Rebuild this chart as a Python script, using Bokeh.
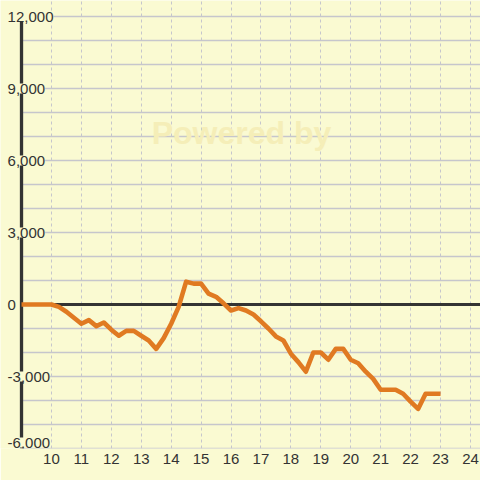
from bokeh.plotting import figure
from bokeh.models import FixedTicker, Range1d, Label
from bokeh.core.properties import value
from bokeh.embed import file_html
from bokeh.resources import INLINE

# ---- data ----
hours = [9.0, 9.25, 9.5, 9.75, 10.0, 10.25, 10.5, 10.75, 11.0, 11.25, 11.5, 11.75,
         12.0, 12.25, 12.5, 12.75, 13.0, 13.25, 13.5, 13.75, 14.0, 14.25, 14.5, 14.75,
         15.0, 15.25, 15.5, 15.75, 16.0, 16.25, 16.5, 16.75, 17.0, 17.25, 17.5, 17.75,
         18.0, 18.25, 18.5, 18.75, 19.0, 19.25, 19.5, 19.75, 20.0, 20.25, 20.5, 20.75,
         21.0, 21.25, 21.5, 21.75, 22.0, 22.25, 22.5, 22.75, 23.0]
balance = [0, 0, 0, 0, 0, -100, -300, -550, -800, -650, -900, -750,
           -1050, -1300, -1100, -1100, -1300, -1500, -1850, -1400, -800, -100, 950, 870,
           870, 450, 320, 50, -250, -150, -250, -420, -700, -1000, -1330, -1500,
           -2050, -2400, -2800, -2000, -2000, -2300, -1850, -1850, -2300, -2450, -2800, -3100,
           -3550, -3550, -3550, -3720, -4050, -4350, -3720, -3720, -3720]

x_ticks = [10, 11, 12, 13, 14, 15, 16, 17, 18, 19, 20, 21, 22, 23, 24]
y_ticks = [-6000, -3000, 0, 3000, 6000, 9000, 12000]
y_tick_labels = ["-6,000", "-3,000", "0", "3,000", "6,000", "9,000", "12,000"]
y_grid = [-6000, -5000, -4000, -3000, -2000, -1000, 0, 1000, 2000, 3000,
          4000, 5000, 6000, 7000, 8000, 9000, 10000, 11000, 12000]

# ---- style ----
BG = "#fafad2"
GRID = "#c6c6cc"
DARK = "#333333"
ORANGE = "#e07a22"
FONT = "Liberation Sans"
FS = "15px"

X0, X1 = 8.298, 24.335
Y0, Y1 = -6000, 12667
x_origin = hours[0]

p = figure(width=480, height=480, output_backend="svg", toolbar_location=None,
           x_range=Range1d(X0, X1), y_range=Range1d(Y0, Y1), y_axis_location=None,
           min_border_left=0, min_border_right=0, min_border_top=0, min_border_bottom=32,
           background_fill_color=BG, border_fill_color=BG, outline_line_color=None)

for g in p.ygrid:
    g.grid_line_color = None

ax = p.xaxis[0]
ax.ticker = FixedTicker(ticks=x_ticks)
ax.axis_line_color = None
ax.major_tick_line_color = None
ax.minor_tick_line_color = None
ax.major_tick_out = 0
ax.major_tick_in = 0
ax.major_label_standoff = 5
ax.major_label_text_font = FONT
ax.major_label_text_font_size = FS
ax.major_label_text_color = DARK

p.xgrid.grid_line_color = GRID
p.xgrid.grid_line_dash = "3 3"
p.xgrid.grid_line_width = 1

# watermark
p.add_layout(Label(x=16.35, y=7150, text="Powered by", text_font=FONT,
                   text_font_style="bold", text_font_size="32px",
                   text_color="#f5eeb8", text_align="center", text_baseline="middle"))

# horizontal gridlines
n = len(y_grid)
p.segment(x0=[x_origin] * n, y0=y_grid, x1=[X1] * n, y1=y_grid,
          line_color=GRID, line_width=1.5)

# axis line and zero line
p.segment(x0=[x_origin], y0=[y_ticks[0]], x1=[x_origin], y1=[y_ticks[-1]],
          line_color=DARK, line_width=3.3)
p.segment(x0=[x_origin], y0=[0], x1=[X1], y1=[0], line_color=DARK, line_width=3)

# data line
p.line(hours, balance, line_color=ORANGE, line_width=4.6, line_join="round")

# y tick labels (over the axis line, with background)
yoff = [-6 if v == y_ticks[0] else 0 for v in y_ticks]
p.text(x=[8.535] * len(y_ticks), y=y_ticks, text=y_tick_labels, y_offset=yoff,
       text_align="left", text_baseline="middle", text_font=value(FONT),
       text_font_size=FS, text_color=DARK, background_fill_color=BG)

open("out.html", "w").write(file_html(p, INLINE))
